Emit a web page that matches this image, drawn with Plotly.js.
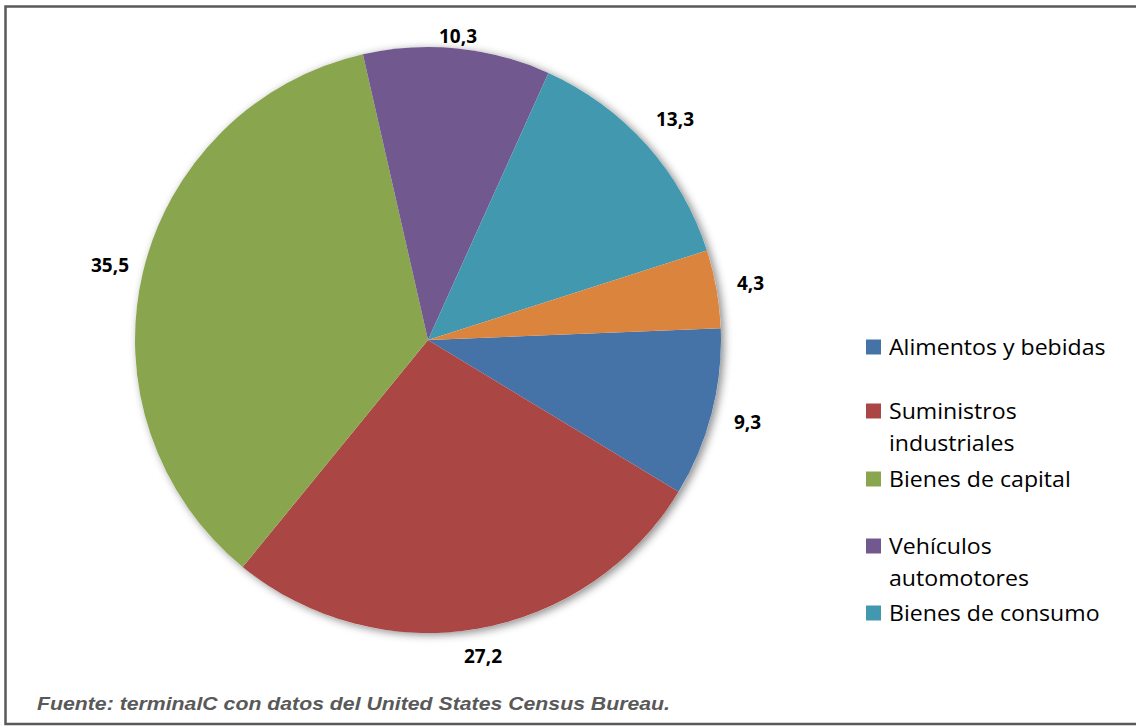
<!DOCTYPE html>
<html>
<head>
<meta charset="utf-8">
<script src="https://cdn.plot.ly/plotly-3.0.1.min.js"></script>
<style>
  html, body { margin: 0; padding: 0; background: #ffffff; }
  #chart { width: 1136px; height: 726px; }
</style>
</head>
<body>
<div id="chart"></div>
<script>
// ---- data ----
const categories = ["Alimentos y bebidas", "Suministros industriales", "Bienes de capital",
                    "Vehículos automotores", "Bienes de consumo", "Otros"];
const values = [9.3, 27.2, 35.5, 10.3, 13.3, 4.3];
const colors = ["#4572A7", "#AA4643", "#89A54E", "#71588F", "#4198AF", "#DB843D"];
// legend (only first five shown in reference), with line breaks as drawn
const legendLines = [["Alimentos y bebidas"], ["Suministros", "industriales"], ["Bienes de capital"],
                     ["Vehículos", "automotores"], ["Bienes de consumo"]];
const sourceText = "Fuente: terminalC con datos del United States Census Bureau.";

// ---- layout helpers (pixel -> paper) ----
const W = 1136, H = 726;
const px = x => x / W;
const py = y => 1 - y / H;

const cx = 428, cy = 340, R = 293;
const rotation = 87.7;
const domain = { x: [px(cx - R), px(cx + R)], y: [py(cy + R), py(cy - R)] };

const shadowTrace = {
  type: "pie", values: [1], labels: ["_bg"], domain: domain,
  marker: { colors: ["#ffffff"], line: { width: 0 } },
  textinfo: "none", hoverinfo: "skip", showlegend: false, sort: false
};

const pieTrace = {
  type: "pie", labels: categories, values: values, domain: domain,
  sort: false, direction: "clockwise", rotation: rotation,
  marker: { colors: colors, line: { width: 0 } },
  textinfo: "none",
  showlegend: false, hoverinfo: "label+value"
};

const shapes = [];
const annotations = [];
const stretch = {}; // annotation index -> {k} or {width}

// frame
shapes.push({ type: "rect", xref: "paper", yref: "paper",
  x0: px(5.5), x1: px(1142), y0: py(724), y1: py(6.5),
  line: { color: "#595959", width: 2.5 }, fillcolor: "rgba(0,0,0,0)" });

// data labels outside each slice, placed from each slice's mid angle
const total = values.reduce((a, b) => a + b, 0);
let cum = 0;
values.forEach((v) => {
  const mid = cum + v / 2;
  cum += v;
  const phi = (rotation + mid / total * 360 - 90) * Math.PI / 180; // clockwise from 3 o'clock
  const r = R + 18 + 18 * Math.abs(Math.cos(phi)) + 7 * Math.sin(phi)
            + 60 * Math.max(0, -Math.sin(2 * phi) - 0.8);
  const x = cx + r * Math.cos(phi), y = cy + r * Math.sin(phi);
  annotations.push({ xref: "paper", yref: "paper", x: px(x), y: py(y),
    xanchor: "center", yanchor: "middle", showarrow: false,
    text: "<b>" + v.toFixed(1).replace(".", ",") + "</b>",
    font: { family: "Open Sans, sans-serif", size: 19, color: "#000000" } });
});

// custom legend
const legX = 866, sq = 15;
const legY = [347, 411, 479, 546, 613];
const lineGap = 32;
legendLines.forEach((lines, i) => {
  const y = legY[i];
  shapes.push({ type: "rect", xref: "paper", yref: "paper",
    x0: px(legX), x1: px(legX + sq), y0: py(y + sq / 2), y1: py(y - sq / 2),
    fillcolor: colors[i], line: { width: 0 } });
  lines.forEach((t, j) => {
    stretch[annotations.length] = { k: 1.1 };
    annotations.push({ xref: "paper", yref: "paper", x: px(legX + sq + 6), y: py(y + j * lineGap),
      xanchor: "left", yanchor: "middle", align: "left", text: t, showarrow: false,
      font: { family: "Open Sans, sans-serif", size: 21, color: "#000000" } });
  });
});

// source note
stretch[annotations.length] = { width: 633 };
annotations.push({ xref: "paper", yref: "paper", x: px(35), y: py(703),
  xanchor: "left", yanchor: "middle", align: "left", text: "<b><i>" + sourceText + "</i></b>", showarrow: false,
  font: { family: "Liberation Sans, Arial, sans-serif", size: 18.5, color: "#595959" } });

const layout = {
  width: W, height: H,
  margin: { l: 0, r: 0, t: 0, b: 0 },
  paper_bgcolor: "#ffffff", plot_bgcolor: "#ffffff",
  showlegend: false,
  shapes: shapes, annotations: annotations
};

Plotly.newPlot("chart", [shadowTrace, pieTrace], layout, { displayModeBar: false, staticPlot: true })
  .then(() => {
    const traces = document.querySelectorAll(".pielayer .trace");
    if (traces.length) {
      const p = traces[0].querySelector("path.surface");
      if (p) p.style.filter = "drop-shadow(3px 2px 4px rgba(0,0,0,0.45))";
    }
    // widen text horizontally to match the reference's stretched typography
    document.querySelectorAll("g.annotation").forEach(g => {
      const idx = +g.getAttribute("data-index");
      const s = stretch[idx];
      if (!s) return;
      const t = g.querySelector("text.annotation-text");
      if (!t) return;
      const L = t.getComputedTextLength();
      const target = s.width ? s.width : L * s.k;
      t.setAttribute("textLength", target);
      t.setAttribute("lengthAdjust", "spacingAndGlyphs");
    });
  });
</script>
</body>
</html>
